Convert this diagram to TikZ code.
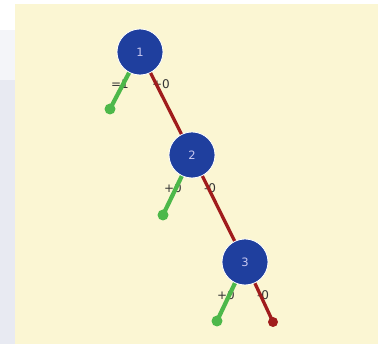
\documentclass[tikz,border=0pt]{standalone}
\usepackage{fontspec}
\setmainfont{DejaVu Sans}
\pgfdeclarelayer{bg}
\pgfdeclarelayer{edges}
\pgfsetlayers{bg,main,edges,nodes}
\pgfdeclarelayer{nodes}
\pgfsetlayers{bg,main,edges,nodes}
\begin{document}
\begin{tikzpicture}[x=1pt,y=-1pt,
  treenode/.style={circle,fill=nodeblue,draw=white,line width=0.8pt,minimum size=46pt,inner sep=0pt,text=nodetext,font=\fontsize{11.5}{13}\selectfont},
  edgelbl/.style={font=\fontsize{12}{14}\selectfont,text=black!80,inner sep=0pt},
  redline/.style={draw=edgered,line width=3.3pt},
  greenline/.style={draw=leafgreen,line width=4.2pt,line cap=round},
  reddot/.style={circle,fill=edgered,minimum size=10pt,inner sep=0pt},
  greendot/.style={circle,fill=leafgreen,minimum size=11pt,inner sep=0pt}]
\definecolor{nodeblue}{HTML}{1F3F9E}
\definecolor{nodetext}{HTML}{C8C8F0}
\definecolor{edgered}{HTML}{A01C1C}
\definecolor{leafgreen}{HTML}{4DB84A}
\definecolor{cream}{HTML}{FBF6D3}
\definecolor{sidegray}{HTML}{E8EAF2}
\useasboundingbox (0,0) rectangle (384,344);
\begin{pgfonlayer}{bg}
\fill[white] (0,0) rectangle (384,344);
\fill[sidegray] (0,80) rectangle (15,344);
\fill[sidegray!50] (0,30) rectangle (15,80);
\fill[cream] (15,4) rectangle (378,344);
\end{pgfonlayer}
% labels
\node[edgelbl] (l1a) at (120,84) {=1};
\node[edgelbl] (l1b) at (161,84) {+0};
\node[edgelbl] (l2a) at (173,188) {+0};
\node[edgelbl] (l2b) at (210,188) {-0};
\node[edgelbl] (l3a) at (226,295) {+0};
\node[edgelbl] (l3b) at (263,295) {-0};
\begin{pgfonlayer}{nodes}
\node[treenode] (n1) at (140,52) {1};
\node[treenode] (n2) at (192,155) {2};
\node[treenode] (n3) at (245,262) {3};
\node[greendot] (g1) at (110,109) {};
\node[greendot] (g2) at (163,215) {};
\node[greendot] (g3) at (217,321) {};
\node[reddot] (r3) at (273,322) {};
\end{pgfonlayer}
\begin{pgfonlayer}{edges}
\draw[redline] (n1.center) -- (n2.center);
\draw[redline] (n2.center) -- (n3.center);
\draw[redline] (n3.center) -- (r3.center);
\draw[greenline] (n1.center) -- (g1.center);
\draw[greenline] (n2.center) -- (g2.center);
\draw[greenline] (n3.center) -- (g3.center);
\end{pgfonlayer}
\end{tikzpicture}
\end{document}
